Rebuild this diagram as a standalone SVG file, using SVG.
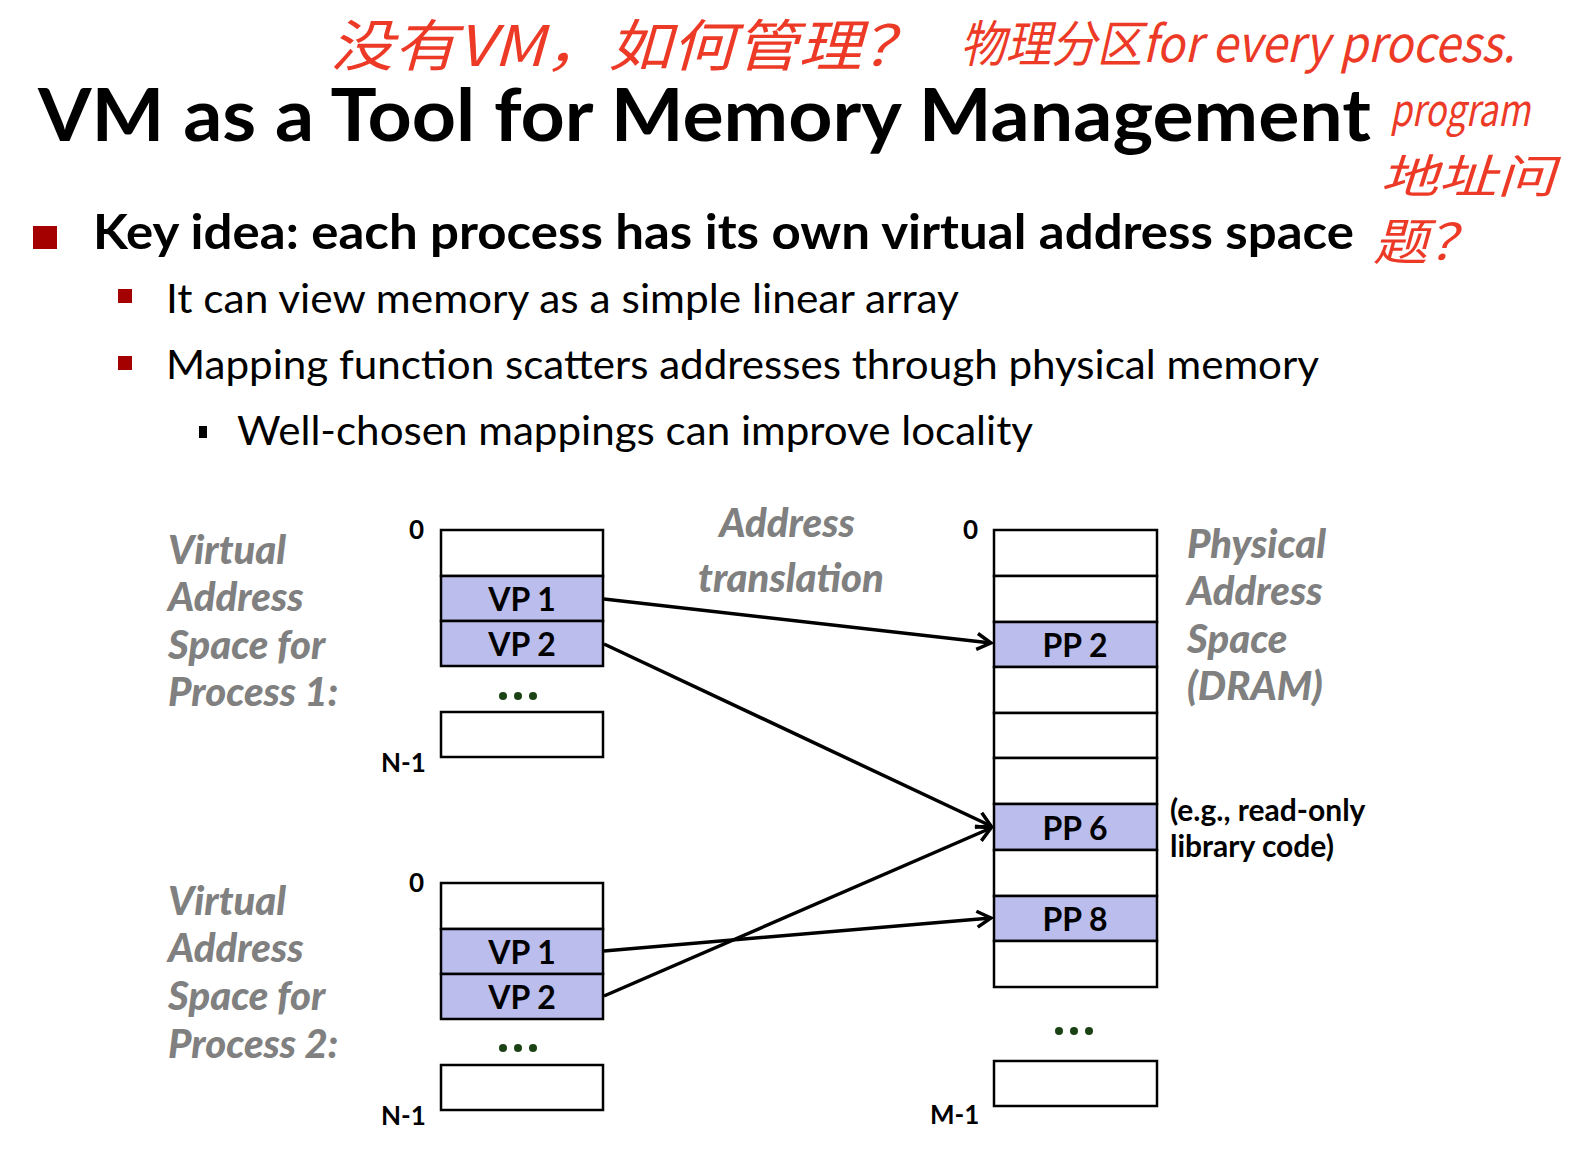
<svg xmlns="http://www.w3.org/2000/svg" width="1575" height="1154" viewBox="0 0 1575 1154">
  <style>
    .title { font-family: Lato, "Liberation Sans", sans-serif; font-weight: bold; fill: #000; }
    .body { font-family: Lato, "Liberation Sans", sans-serif; fill: #000; }
    .gray { font-family: Lato, "Liberation Sans", sans-serif; font-weight: 900; font-style: italic; fill: #808080; font-size: 40px; }
    .lbl { font-family: Lato, "Liberation Sans", sans-serif; font-weight: bold; fill: #000; font-size: 26px; }
    .page { font-family: Lato, "Liberation Sans", sans-serif; font-weight: bold; fill: #000; font-size: 32px; text-anchor: middle; }
    .note { font-family: Lato, "Liberation Sans", sans-serif; font-weight: bold; fill: #000; font-size: 30px; }
    .cell { fill: #fff; stroke: #000; stroke-width: 2.5; }
    .used { fill: #bbbdec; stroke: #000; stroke-width: 2.5; }
    .hand { font-family: "Noto Sans CJK SC", "Noto Sans", sans-serif; font-style: italic; fill: #ec3a27; }
    .conn { stroke: #000; stroke-width: 3.5; fill: none; marker-end: url(#open); }
    .dot { fill: #1b4214; }
  </style>
  <defs>
    <marker id="open" viewBox="0 0 20 20" refX="18" refY="10" markerWidth="20" markerHeight="20" markerUnits="userSpaceOnUse" orient="auto">
      <path d="M4,2 L18,10 L4,18" fill="none" stroke="#000" stroke-width="3.5"/>
    </marker>
  </defs>

  <rect width="1575" height="1154" fill="#fff"/>

  <!-- handwritten notes -->
  <g id="notes">
    <text class="hand" x="330" y="66" font-size="56" textLength="595" lengthAdjust="spacingAndGlyphs">没有VM，如何管理？</text>
    <text class="hand" x="960" y="62" font-size="50" textLength="555" lengthAdjust="spacingAndGlyphs">物理分区for every process.</text>
    <text class="hand" x="1390" y="126" font-size="44" textLength="140" lengthAdjust="spacingAndGlyphs">program</text>
    <text class="hand" x="1380" y="193" font-size="46" textLength="175" lengthAdjust="spacingAndGlyphs">地址问</text>
    <text class="hand" x="1373" y="260" font-size="50" textLength="110" lengthAdjust="spacingAndGlyphs">题？</text>
  </g>

  <!-- heading and bullets -->
  <g id="heading">
    <text class="title" x="38" y="141" font-size="73" textLength="1333" lengthAdjust="spacingAndGlyphs">VM as a Tool for Memory Management</text>
  </g>
  <g id="bullets">
    <rect x="33" y="226" width="24" height="23" fill="#a50000"/>
    <text class="body" x="93" y="249" font-size="48" font-weight="bold" textLength="1261" lengthAdjust="spacingAndGlyphs">Key idea: each process has its own virtual address space</text>
    <rect x="118" y="289" width="14" height="14" fill="#a50000"/>
    <text class="body" x="166" y="313" font-size="40" textLength="793" lengthAdjust="spacingAndGlyphs">It can view memory as a simple linear array</text>
    <rect x="118" y="356" width="14" height="14" fill="#a50000"/>
    <text class="body" x="166" y="379" font-size="40" textLength="1153" lengthAdjust="spacingAndGlyphs">Mapping function scatters addresses through physical memory</text>
    <rect x="199" y="426" width="8" height="12" fill="#000"/>
    <text class="body" x="237" y="445" font-size="40" textLength="796" lengthAdjust="spacingAndGlyphs">Well-chosen mappings can improve locality</text>
  </g>

  <!-- side captions -->
  <g id="caption-p1">
    <text class="gray" x="168" y="564">Virtual</text>
    <text class="gray" x="168" y="611">Address</text>
    <text class="gray" x="168" y="659">Space for</text>
    <text class="gray" x="168" y="706">Process 1:</text>
  </g>
  <g id="caption-p2">
    <text class="gray" x="168" y="915">Virtual</text>
    <text class="gray" x="168" y="962">Address</text>
    <text class="gray" x="168" y="1010">Space for</text>
    <text class="gray" x="168" y="1058">Process 2:</text>
  </g>
  <g id="caption-translation">
    <text class="gray" x="787" y="537" text-anchor="middle" font-size="45">Address</text>
    <text class="gray" x="791" y="592" text-anchor="middle" font-size="45">translation</text>
  </g>
  <g id="caption-phys">
    <text class="gray" x="1187" y="558">Physical</text>
    <text class="gray" x="1187" y="605">Address</text>
    <text class="gray" x="1187" y="653">Space</text>
    <text class="gray" x="1187" y="700">(DRAM)</text>
  </g>

  <!-- virtual address space, process 1 -->
  <g id="vas1">
    <text class="lbl" x="409" y="539">0</text>
    <rect class="cell" x="441" y="530" width="162" height="46"/>
    <rect class="used" x="441" y="576" width="162" height="45"/>
    <text class="page" x="522" y="611">VP 1</text>
    <rect class="used" x="441" y="621" width="162" height="45"/>
    <text class="page" x="522" y="656">VP 2</text>
    <circle class="dot" cx="503" cy="696" r="4"/>
    <circle class="dot" cx="518" cy="696" r="4"/>
    <circle class="dot" cx="533" cy="696" r="4"/>
    <rect class="cell" x="441" y="712" width="162" height="45"/>
    <text class="lbl" x="381" y="772">N-1</text>
  </g>

  <!-- virtual address space, process 2 -->
  <g id="vas2">
    <text class="lbl" x="409" y="892">0</text>
    <rect class="cell" x="441" y="883" width="162" height="46"/>
    <rect class="used" x="441" y="929" width="162" height="45"/>
    <text class="page" x="522" y="964">VP 1</text>
    <rect class="used" x="441" y="974" width="162" height="45"/>
    <text class="page" x="522" y="1009">VP 2</text>
    <circle class="dot" cx="503" cy="1048" r="4"/>
    <circle class="dot" cx="518" cy="1048" r="4"/>
    <circle class="dot" cx="533" cy="1048" r="4"/>
    <rect class="cell" x="441" y="1065" width="162" height="45"/>
    <text class="lbl" x="381" y="1125">N-1</text>
  </g>

  <!-- physical memory (DRAM) -->
  <g id="dram">
    <text class="lbl" x="963" y="539">0</text>
    <rect class="cell" x="994" y="530" width="163" height="46"/>
    <rect class="cell" x="994" y="576" width="163" height="46"/>
    <rect class="used" x="994" y="622" width="163" height="45"/>
    <text class="page" x="1075" y="657">PP 2</text>
    <rect class="cell" x="994" y="667" width="163" height="46"/>
    <rect class="cell" x="994" y="713" width="163" height="45"/>
    <rect class="cell" x="994" y="758" width="163" height="46"/>
    <rect class="used" x="994" y="804" width="163" height="46"/>
    <text class="page" x="1075" y="840">PP 6</text>
    <rect class="cell" x="994" y="850" width="163" height="46"/>
    <rect class="used" x="994" y="896" width="163" height="45"/>
    <text class="page" x="1075" y="931">PP 8</text>
    <rect class="cell" x="994" y="941" width="163" height="46"/>
    <circle class="dot" cx="1059" cy="1031" r="4"/>
    <circle class="dot" cx="1074" cy="1031" r="4"/>
    <circle class="dot" cx="1089" cy="1031" r="4"/>
    <rect class="cell" x="994" y="1061" width="163" height="45"/>
    <text class="lbl" x="930" y="1124">M-1</text>
    <text class="note" x="1170" y="821">(e.g., read-only</text>
    <text class="note" x="1170" y="857">library code)</text>
  </g>

  <!-- mappings -->
  <g id="connectors">
    <line class="conn" x1="604" y1="599" x2="991" y2="643"/>
    <line class="conn" x1="604" y1="644" x2="991" y2="826"/>
    <line class="conn" x1="604" y1="951" x2="991" y2="918"/>
    <line class="conn" x1="604" y1="996" x2="991" y2="828"/>
  </g>
</svg>
